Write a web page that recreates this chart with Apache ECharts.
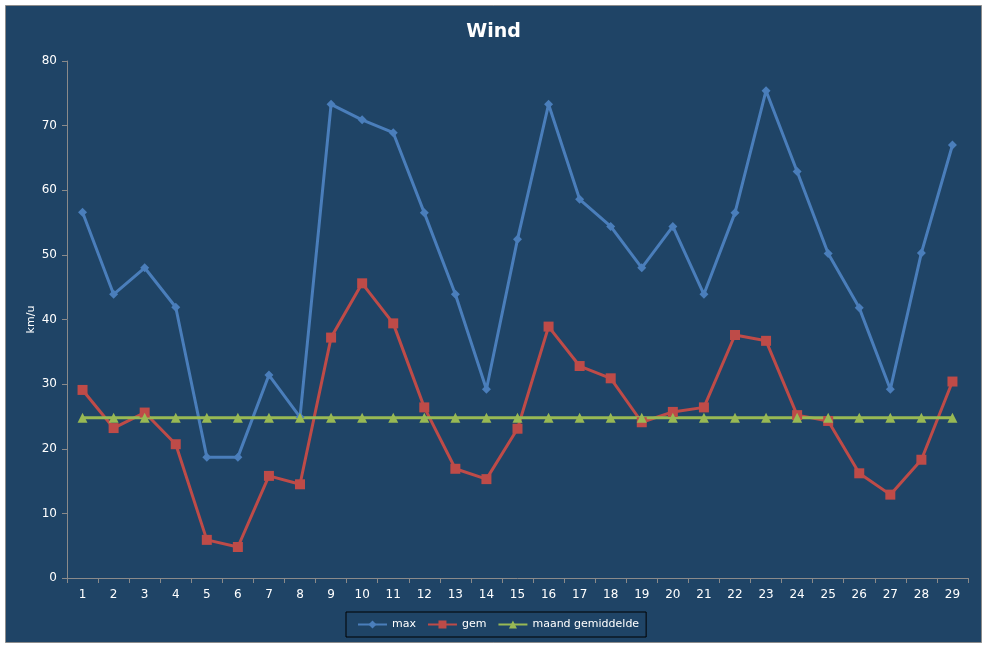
<!DOCTYPE html>
<html>
<head>
<meta charset="utf-8">
<script src="https://cdn.jsdelivr.net/npm/echarts@6/dist/echarts.min.js"></script>
<style>
  html, body { margin: 0; padding: 0; background: #fff; }
  #chart { width: 987px; height: 648px; }
</style>
</head>
<body>
<div id="chart"></div>
<script>
(() => {
    const days = ["1","2","3","4","5","6","7","8","9","10","11","12","13","14","15",
                  "16","17","18","19","20","21","22","23","24","25","26","27","28","29"];
    const maxWind = [56.6, 43.9, 48.0, 41.9, 18.7, 18.7, 31.4, 24.9, 73.3, 70.9,
                     68.9, 56.5, 43.9, 29.2, 52.4, 73.3, 58.6, 54.4, 48.0, 54.4,
                     43.9, 56.5, 75.4, 62.9, 50.2, 41.8, 29.2, 50.3, 67.0];
    const gemWind = [29.1, 23.2, 25.6, 20.7, 5.9, 4.8, 15.8, 14.5, 37.2, 45.6,
                     39.4, 26.4, 16.9, 15.3, 23.1, 38.9, 32.8, 30.9, 24.1, 25.7,
                     26.4, 37.6, 36.7, 25.2, 24.3, 16.2, 12.9, 18.3, 30.4];
    const monthAvg = 24.8;
    const avgLine = days.map(() => monthAvg);

    const FONT = "DejaVu Sans";
    const TEXT = "#ffffff";
    const AXIS = "#8a8a8a";

    // Excel-ish chart: dark blue fill inside a grey frame, white page round it
    let chart = echarts.init(document.getElementById("chart"));
    chart.setOption({
        animation: false,
        backgroundColor: "#ffffff",
        graphic: [{
            type: "rect",
            z: -100,
            silent: true,
            shape: {x: 5.5, y: 5.5, width: 976, height: 637},
            style: {fill: "#1f4466", stroke: "#8c8c8c", lineWidth: 1}
        }],
        title: {
            text: "Wind",
            left: "center",
            top: 18,
            textStyle: {color: TEXT, fontFamily: FONT, fontSize: 19, fontWeight: "bold"}
        },
        legend: {
            bottom: 11,
            left: 346,
            padding: [7, 7, 7, 11],
            itemGap: 11,
            itemWidth: 29,
            itemHeight: 10,
            borderColor: "#000000",
            borderWidth: 1,
            textStyle: {color: TEXT, fontFamily: FONT, fontSize: 11},
            data: ["max", "gem", "maand gemiddelde"]
        },
        grid: {left: 67, right: 19, top: 61, bottom: 70, containLabel: false},
        xAxis: {
            type: "category",
            data: days,
            boundaryGap: true,
            axisLine: {lineStyle: {color: AXIS, width: 1}},
            axisTick: {show: true, inside: false, length: 5, lineStyle: {color: AXIS}},
            axisLabel: {color: TEXT, fontFamily: FONT, fontSize: 12, margin: 11},
            splitLine: {show: false}
        },
        yAxis: {
            type: "value",
            min: 0,
            max: 80,
            interval: 10,
            name: "km/u",
            nameLocation: "middle",
            nameGap: 30,
            nameRotate: 90,
            nameMoveOverlap: false,
            nameTextStyle: {color: TEXT, fontFamily: FONT, fontSize: 11},
            axisLine: {show: true, lineStyle: {color: AXIS, width: 1}},
            axisTick: {show: true, length: 5, lineStyle: {color: AXIS}},
            axisLabel: {color: TEXT, fontFamily: FONT, fontSize: 12, margin: 10},
            splitLine: {show: false}
        },
        series: [
            {
                name: "max",
                type: "line",
                data: maxWind,
                symbol: "diamond",
                symbolSize: 9,
                lineStyle: {width: 3, color: "#4a7ebb"},
                itemStyle: {color: "#4a7ebb"}
            },
            {
                name: "gem",
                type: "line",
                data: gemWind,
                symbol: "rect",
                symbolSize: 10,
                lineStyle: {width: 3, color: "#be4b48"},
                itemStyle: {color: "#be4b48"}
            },
            {
                name: "maand gemiddelde",
                type: "line",
                data: avgLine,
                symbol: "triangle",
                symbolSize: 10,
                lineStyle: {width: 3, color: "#98b954"},
                itemStyle: {color: "#98b954"}
            }
        ]
    });
})();
</script>
</body>
</html>
